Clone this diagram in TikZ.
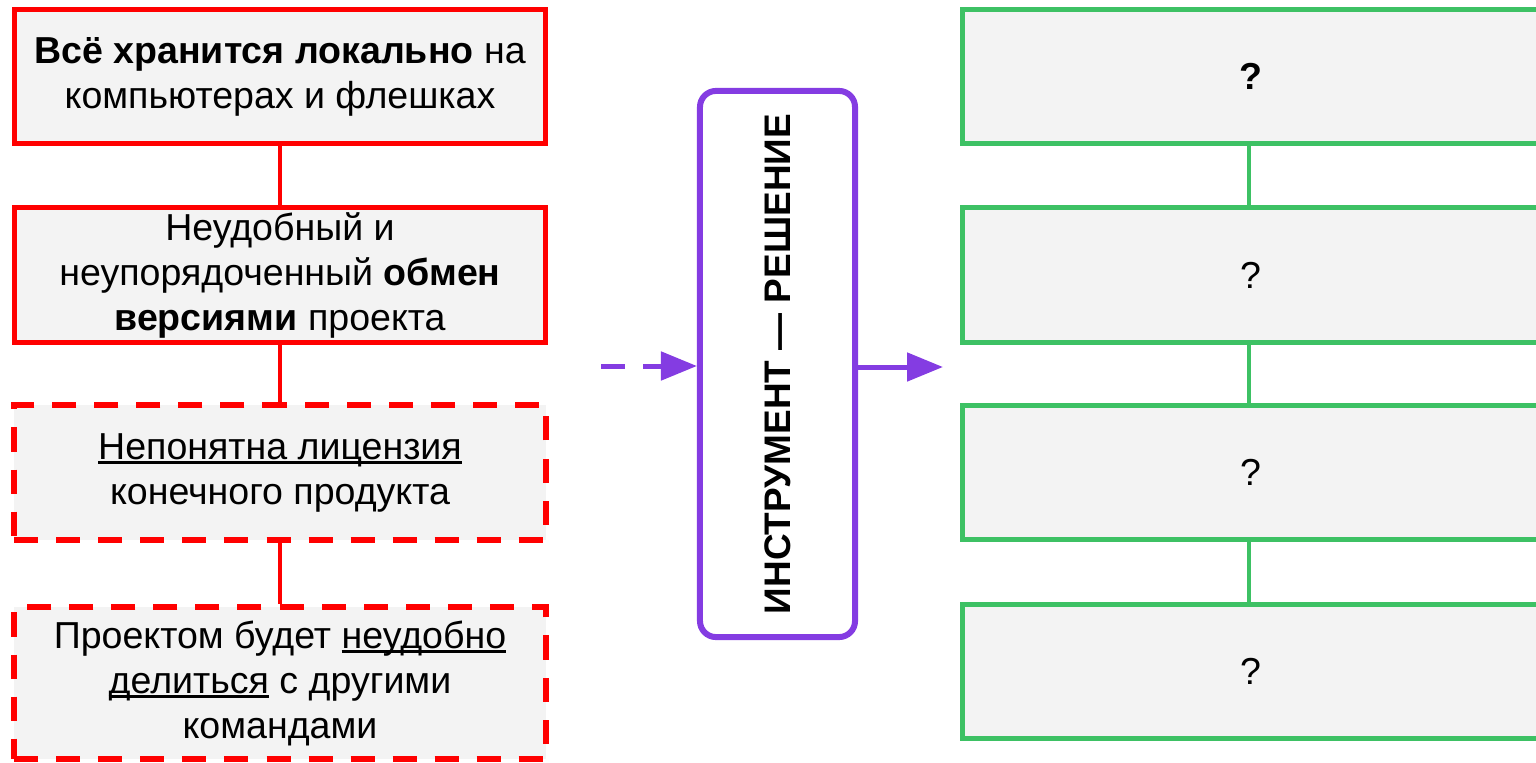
\documentclass[tikz,border=0pt]{standalone}
\usepackage{fontspec}
\setmainfont{Liberation Sans}
\usetikzlibrary{arrows.meta}

\definecolor{probred}{RGB}{255,0,0}
\definecolor{okgreen}{RGB}{61,193,100}
\definecolor{toolviolet}{RGB}{132,60,226}
\definecolor{boxgray}{RGB}{243,243,243}

% underline sitting right under the baseline
\newcommand\lineunder[1]{\leavevmode\setbox0=\hbox{#1}\rlap{\rule[-3.3pt]{\wd0}{2pt}}\box0\relax}

\tikzset{
  txt/.style={font=\fontsize{26.7}{32}\selectfont, align=center},
  problem/.style={txt, draw=probred, fill=boxgray, line width=0.12cm,
    minimum width=13.275cm, minimum height=3.35cm},
  maybe/.style={problem, line width=0.15cm, dash pattern=on 0.6cm off 0.45cm},
  answer/.style={txt, draw=okgreen, fill=boxgray, line width=0.125cm,
    minimum width=14.4cm, minimum height=3.35cm},
  toolbox/.style={draw=toolviolet, line width=0.15cm, rounded corners=0.4cm,
    font=\fontsize{26.3}{32}\selectfont\bfseries,
    minimum width=3.875cm, minimum height=13.65cm},
  redlink/.style={draw=probred, line width=0.09cm},
  greenlink/.style={draw=okgreen, line width=0.09cm},
  flow/.style={draw=toolviolet, line width=0.125cm, -{Triangle[length=0.9cm,width=0.7cm]}},
}

\begin{document}
\begin{tikzpicture}[x=0.025cm, y=-0.025cm]
  \useasboundingbox (0,0) rectangle (1536,762);
  \clip (0,0) rectangle (1536,762);

  % left column: what goes wrong now
  \node[problem] (local) at (280,76.5)
    {\textbf{Всё хранится локально} на\\компьютерах и флешках};
  \node[problem] (swap) at (280,275)
    {Неудобный и\\неупорядоченный \textbf{обмен}\\\textbf{версиями} проекта};
  \node[maybe] (license) at (280,472.5)
    {\lineunder{Непонятна лицензия}\\конечного продукта};
  \node[maybe, minimum height=3.775cm] (share) at (280,683)
    {Проектом будет \lineunder{неудобно}\\\lineunder{делиться} с другими\\командами};

  \draw[redlink] (local) -- (swap);
  \draw[redlink] (swap) -- (license);
  \draw[redlink] (license) -- (share);

  % middle: the tool
  \node[toolbox] (tool) at (777.5,364)
    {\rotatebox{90}{ИНСТРУМЕНТ — РЕШЕНИЕ}};
  \coordinate (dashstart) at (601,366);
  \coordinate (gapend) at (943,367);
  \draw[flow, dash pattern=on 0.6cm off 0.45cm] (dashstart) -- (dashstart -| tool.west);
  \draw[flow] (tool.east |- gapend) -- (gapend);

  % right column: answers still open
  \node[answer] (ans1) at (1250.5,76.5) {\textbf{?}};
  \node[answer] (ans2) at (1250.5,275) {?};
  \node[answer] (ans3) at (1250.5,472.5) {?};
  \node[answer] (ans4) at (1250.5,671.5) {?};

  \foreach \a/\b in {ans1/ans2, ans2/ans3, ans3/ans4}
    \draw[greenlink] ([xshift=-0.04cm]\a.south) -- ([xshift=-0.04cm]\b.north);
\end{tikzpicture}
\end{document}
